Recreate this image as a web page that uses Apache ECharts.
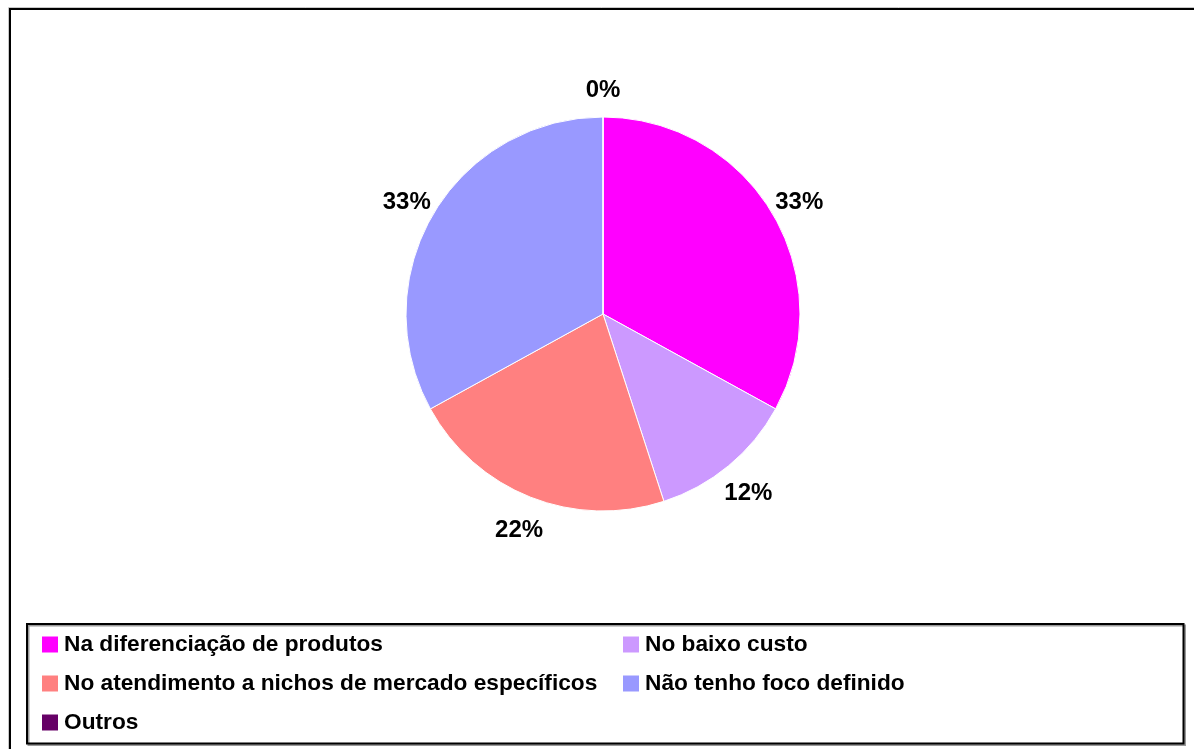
<!DOCTYPE html>
<html>
<head>
<meta charset="utf-8">
<script src="https://cdn.jsdelivr.net/npm/echarts@6/dist/echarts.min.js"></script>
<style>
  html, body { margin: 0; padding: 0; background: #fff; }
  #chart { width: 1194px; height: 749px; }
</style>
</head>
<body>
<div id="chart"></div>
<script>
// Foco estratégico: participação de cada resposta (%)
const categories = [
  'Na diferenciação de produtos',
  'No baixo custo',
  'No atendimento a nichos de mercado específicos',
  'Não tenho foco definido',
  'Outros'
];
const percentages = [33, 12, 22, 33, 0];
const sliceColors = ['#FF00FF', '#CC99FF', '#FF8080', '#9999FF', '#660066'];

const FONT = '"Liberation Sans", Arial, sans-serif';

const pieData = categories.map((name, i) => ({
  name: name,
  value: percentages[i],
  itemStyle: { color: sliceColors[i] }
}));

const chart = echarts.init(document.getElementById('chart'), null, { renderer: 'canvas' });

chart.setOption({
  backgroundColor: '#ffffff',
  animation: false,
  graphic: [
    // outer chart frame
    { type: 'rect', z: 0, silent: true,
      shape: { x: 8.5, y: 7.5, width: 1220, height: 800 },
      style: { fill: null, stroke: '#c8c8c8', lineWidth: 1 } },
    { type: 'rect', z: 1, silent: true,
      shape: { x: 10, y: 9, width: 1220, height: 800 },
      style: { fill: null, stroke: '#000', lineWidth: 2 } },
    // legend frame
    { type: 'rect', z: 1, silent: true,
      shape: { x: 27, y: 624, width: 1156.5, height: 119.5 },
      style: { fill: '#fff', stroke: '#000', lineWidth: 2,
               shadowColor: '#9a9a9a', shadowOffsetX: 1.5, shadowOffsetY: 1.5, shadowBlur: 0 } }
  ],
  legend: {
    data: categories,
    orient: 'horizontal',
    left: 40,
    top: 625,
    width: 1170,
    padding: 0,
    itemGap: 0,
    itemWidth: 18,
    itemHeight: 18,
    icon: 'rect',
    selectedMode: false,
    z: 5,
    textStyle: {
      fontFamily: FONT,
      fontWeight: 'bold',
      fontSize: 22.7,
      color: '#000',
      width: 557,
      lineHeight: 39
    }
  },
  series: [
    {
      name: 'Foco',
      type: 'pie',
      center: [603, 314],
      radius: [0, 197],
      startAngle: 90,
      clockwise: true,
      avoidLabelOverlap: false,
      label: { show: false },
      labelLine: { show: false },
      emphasis: { disabled: true },
      itemStyle: { borderColor: '#ffffff', borderWidth: 1 },
      data: pieData
    },
    {
      // transparent ring carrying the percentage labels around the pie
      name: 'Rótulos',
      type: 'pie',
      center: [603, 314],
      radius: [197, 253],
      startAngle: 90,
      clockwise: true,
      silent: true,
      avoidLabelOverlap: false,
      emphasis: { disabled: true },
      itemStyle: { color: 'rgba(0,0,0,0)', borderWidth: 0 },
      labelLine: { show: false },
      label: {
        show: true,
        position: 'inside',
        formatter: '{c}%',
        offset: [0, 4],
        fontFamily: FONT,
        fontWeight: 'bold',
        fontSize: 24,
        color: '#000'
      },
      data: categories.map((name, i) => ({ name: name, value: percentages[i] }))
    }
  ]
});
</script>
</body>
</html>
